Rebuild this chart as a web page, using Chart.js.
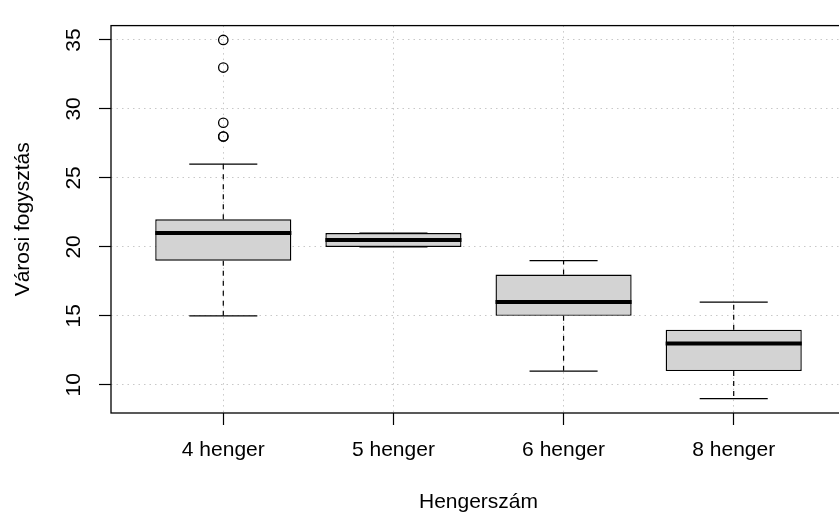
<!DOCTYPE html>
<html>
<head>
<meta charset="utf-8">
<title>Városi fogysztás hengerszám szerint</title>
<script src="https://cdn.jsdelivr.net/npm/chart.js@4.4.1/dist/chart.umd.min.js"></script>
<style>
  html, body { margin: 0; padding: 0; background: #fff; overflow: hidden; }
  #wrap { width: 860px; height: 516px; }
</style>
</head>
<body>
<div id="wrap"><canvas id="boxChart" width="860" height="516"></canvas></div>
<script>
// five-number summaries per cylinder group
var categories = ['4 henger', '5 henger', '6 henger', '8 henger'];
var whiskerLow = [15, 20, 11, 9];
var q1 = [19, 20, 15, 11];
var median = [21, 20.5, 16, 13];
var q3 = [22, 21, 18, 14];
var whiskerHigh = [26, 21, 19, 16];
var outliers = [[28, 28, 29, 33, 35], [], [], []];
var yTicks = [10, 15, 20, 25, 30, 35];

// axis limits like R: data range stretched by 4%
var allValues = whiskerLow.concat(whiskerHigh, [].concat.apply([], outliers));
var dataMin = Math.min.apply(null, allValues);
var dataMax = Math.max.apply(null, allValues);
var yMin = dataMin - 0.04 * (dataMax - dataMin);
var yMax = dataMax + 0.04 * (dataMax - dataMin);
var xMin = 0.5 - 0.04 * categories.length;
var xMax = categories.length + 0.5 + 0.04 * categories.length;

var boxData = categories.map(function (c, i) {
    return { x: i + 1, y: [q1[i], q3[i]] };
});
var outlierData = [];
outliers.forEach(function (list, i) {
    list.forEach(function (v) { outlierData.push({ x: i + 1, y: v }); });
});

Chart.defaults.font.family = "'Liberation Sans', Arial, Helvetica, sans-serif";
Chart.defaults.font.size = 21;
Chart.defaults.color = '#000';

// whiskers, staples and medians on top of the boxes
var boxParts = {
    id: 'boxParts',
    afterDatasetsDraw: function (chart) {
        var ctx = chart.ctx;
        var x = chart.scales.x, y = chart.scales.y;
        var bars = chart.getDatasetMeta(0).data;
        ctx.save();
        ctx.strokeStyle = '#000';
        categories.forEach(function (c, i) {
            var cx = x.getPixelForValue(i + 1);
            var sl = x.getPixelForValue(i + 1 - 0.2);
            var sr = x.getPixelForValue(i + 1 + 0.2);

            ctx.lineWidth = 1.2;
            ctx.setLineDash([5, 5]);
            ctx.beginPath();
            ctx.moveTo(cx, y.getPixelForValue(q3[i]));
            ctx.lineTo(cx, y.getPixelForValue(whiskerHigh[i]));
            ctx.moveTo(cx, y.getPixelForValue(q1[i]));
            ctx.lineTo(cx, y.getPixelForValue(whiskerLow[i]));
            ctx.stroke();

            ctx.setLineDash([]);
            ctx.beginPath();
            ctx.moveTo(sl, y.getPixelForValue(whiskerHigh[i]));
            ctx.lineTo(sr, y.getPixelForValue(whiskerHigh[i]));
            ctx.moveTo(sl, y.getPixelForValue(whiskerLow[i]));
            ctx.lineTo(sr, y.getPixelForValue(whiskerLow[i]));
            ctx.stroke();

            var half = bars[i].width / 2;
            ctx.lineWidth = 4;
            ctx.beginPath();
            ctx.moveTo(bars[i].x - half, y.getPixelForValue(median[i]));
            ctx.lineTo(bars[i].x + half, y.getPixelForValue(median[i]));
            ctx.stroke();
        });
        ctx.restore();
    },
    afterDraw: function (chart) {
        var a = chart.chartArea;
        var ctx = chart.ctx;
        ctx.save();
        ctx.strokeStyle = '#000';
        ctx.lineWidth = 1.3;
        ctx.strokeRect(a.left, a.top, a.right - a.left, a.bottom - a.top);
        ctx.restore();
    }
};

var gridStyle = {
    color: '#C8C8C8',
    lineWidth: 1,
    drawTicks: true,
    tickLength: 12,
    tickColor: '#000',
    tickWidth: 1.2,
    tickBorderDash: []
};
// grid line dashes live under border in Chart.js v4
var dottedBorder = { display: false, dash: [1.5, 4] };

new Chart(document.getElementById('boxChart'), {
    type: 'bar',
    data: {
        datasets: [{
            type: 'bar',
            data: boxData,
            backgroundColor: '#D3D3D3',
            borderColor: '#000',
            borderWidth: 1.4,
            borderSkipped: false,
            barPercentage: 0.8,
            categoryPercentage: 1.0,
            order: 2
        }, {
            type: 'scatter',
            data: outlierData,
            pointStyle: 'circle',
            pointRadius: 4.7,
            pointBorderWidth: 1.3,
            pointBorderColor: '#000',
            pointBackgroundColor: 'rgba(0,0,0,0)',
            order: 1
        }]
    },
    options: {
        responsive: false,
        devicePixelRatio: 1,
        animation: false,
        layout: { padding: { top: 9.5, right: 14, bottom: 0, left: 0 } },
        plugins: { legend: { display: false }, tooltip: { enabled: false } },
        scales: {
            x: {
                type: 'linear',
                min: xMin,
                max: xMax,
                offset: false,
                z: 1,
                grid: Object.assign({ offset: false }, gridStyle),
                border: dottedBorder,
                afterBuildTicks: function (scale) {
                    scale.ticks = categories.map(function (c, i) { return { value: i + 1 }; });
                },
                afterFit: function (scale) { scale.height = 103; },
                ticks: {
                    padding: 13,
                    maxRotation: 0,
                    autoSkip: false,
                    callback: function (value) { return categories[value - 1]; }
                },
                title: {
                    display: true,
                    text: 'Hengerszám',
                    padding: { top: 0, bottom: 1 }
                }
            },
            y: {
                type: 'linear',
                min: yMin,
                max: yMax,
                beginAtZero: false,
                z: 1,
                grid: gridStyle,
                border: dottedBorder,
                afterBuildTicks: function (scale) {
                    scale.ticks = yTicks.map(function (v) { return { value: v }; });
                },
                afterFit: function (scale) { scale.width = 111; },
                ticks: {
                    padding: 13,
                    minRotation: 90,
                    maxRotation: 90,
                    crossAlign: 'center'
                },
                title: {
                    display: true,
                    text: 'Városi fogysztás',
                    padding: { top: 11, bottom: 0 }
                }
            }
        }
    },
    plugins: [boxParts]
});
</script>
</body>
</html>
